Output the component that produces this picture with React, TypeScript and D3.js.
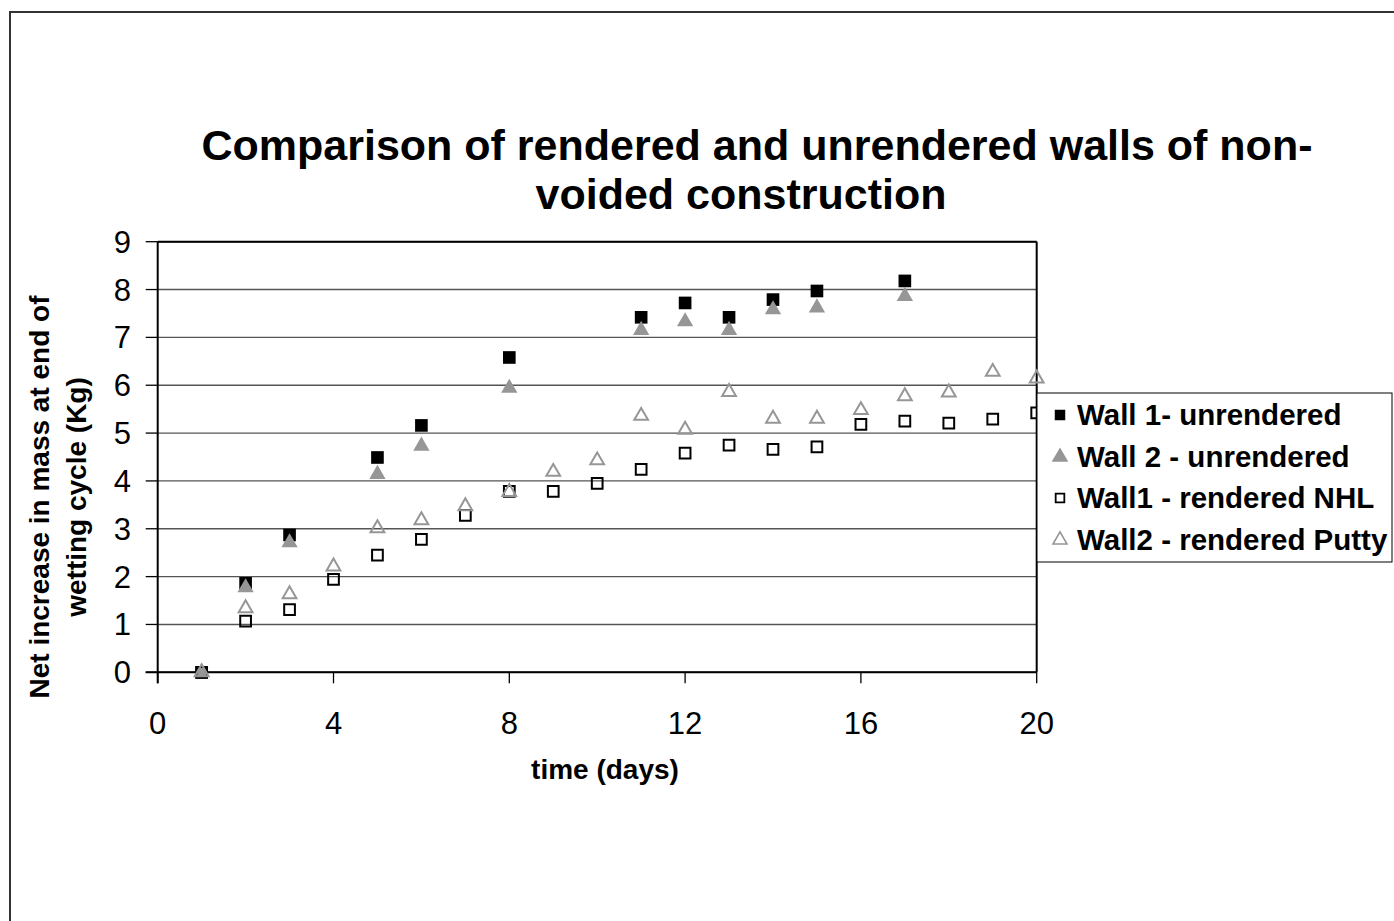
import React from "react";
import * as d3 from "d3";

const days1 = [1, 2, 3, 5, 6, 8, 11, 12, 13, 14, 15, 17];
const wall1Unrendered = [0.0, 1.86, 2.87, 4.49, 5.16, 6.58, 7.42, 7.72, 7.42, 7.79, 7.97, 8.18];
const wall2Unrendered = [0.0, 1.77, 2.71, 4.14, 4.73, 5.94, 7.15, 7.33, 7.15, 7.58, 7.62, 7.86];
const days2 = [1, 2, 3, 4, 5, 6, 7, 8, 9, 10, 11, 12, 13, 14, 15, 16, 17, 18, 19, 20];
const wall1RenderedNHL = [0.0, 1.07, 1.31, 1.94, 2.45, 2.78, 3.28, 3.78, 3.78, 3.95, 4.24, 4.58, 4.75, 4.66, 4.71, 5.18, 5.25, 5.21, 5.29, 5.42];
const wall2RenderedPutty = [0.0, 1.34, 1.63, 2.21, 3.01, 3.18, 3.47, 3.77, 4.19, 4.43, 5.36, 5.07, 5.86, 5.30, 5.30, 5.48, 5.77, 5.85, 6.28, 6.14];
const xTicks = [0, 4, 8, 12, 16, 20];
const yTicks = [0, 1, 2, 3, 4, 5, 6, 7, 8, 9];
const titleLines = ["Comparison of rendered and unrendered walls of non-", "voided construction"];
const yLabelLines = ["Net increase in mass at end of", "wetting cycle (Kg)"];
const xLabel = "time (days)";
const legendLabels = ["Wall 1- unrendered", "Wall 2 - unrendered", "Wall1 - rendered NHL", "Wall2 - rendered Putty"];

const GRAY = "#969696";
const FONT = "'Liberation Sans', Arial, sans-serif";

export default function App() {
  const x = d3.scaleLinear().domain([0, 20]).range([157.7, 1036.7]);
  const y = d3.scaleLinear().domain([0, 9]).range([672.3, 241.7]);

  const sqFilled = d3.symbol(d3.symbolSquare, 160)()!;
  const sqOpen = d3.symbol(d3.symbolSquare, 115)()!;
  const triFilled = d3.symbol(d3.symbolTriangle, 115)()!;
  const triOpen = d3.symbol(d3.symbolTriangle, 82)()!;

  const legSq = d3.symbol(d3.symbolSquare, 110)()!;
  const legSqOpen = d3.symbol(d3.symbolSquare, 75)()!;
  const legTri = d3.symbol(d3.symbolTriangle, 120)()!;
  const legTriOpen = d3.symbol(d3.symbolTriangle, 85)()!;

  const legendRowsY = [415, 457, 498, 540];
  const legendMarkers = [
    { d: legSq, fill: "#000", stroke: "none", sw: 0 },
    { d: legTri, fill: GRAY, stroke: "none", sw: 0 },
    { d: legSqOpen, fill: "none", stroke: "#000", sw: 1.8 },
    { d: legTriOpen, fill: "none", stroke: GRAY, sw: 1.6 },
  ];

  return (
    <svg
      width={1394}
      height={921}
      style={{ position: "absolute", left: 0, top: 0, background: "#fff" }}
      fontFamily={FONT}
    >
      <rect x={0} y={0} width={1394} height={921} fill="#fff" />
      {/* outer chart border */}
      <rect x={10} y={12} width={1420} height={950} fill="none" stroke="#333" strokeWidth={2} />

      {/* title */}
      <text x={757} y={160} textAnchor="middle" fontSize={43} fontWeight="bold" fill="#000">
        {titleLines[0]}
      </text>
      <text x={741} y={209} textAnchor="middle" fontSize={43} fontWeight="bold" fill="#000">
        {titleLines[1]}
      </text>

      {/* gridlines */}
      {yTicks.map((t) => (
        <line key={"g" + t} x1={x(0)} x2={x(20)} y1={y(t)} y2={y(t)} stroke="#555" strokeWidth={1.4} />
      ))}

      {/* plot border top/right */}
      <line x1={x(0)} x2={x(20)} y1={y(9)} y2={y(9)} stroke="#000" strokeWidth={2} />
      <line x1={x(20)} x2={x(20)} y1={y(9)} y2={y(0)} stroke="#000" strokeWidth={2} />

      {/* y axis */}
      <line x1={x(0)} x2={x(0)} y1={y(9)} y2={y(0) + 11} stroke="#000" strokeWidth={2} />
      {yTicks.map((t) => (
        <g key={"yt" + t}>
          <line x1={x(0) - 12} x2={x(0)} y1={y(t)} y2={y(t)} stroke="#000" strokeWidth={1.3} />
          <text x={131} y={y(t) + 11} textAnchor="end" fontSize={31} fill="#000">
            {t}
          </text>
        </g>
      ))}

      {/* x axis */}
      <line x1={x(0) - 12} x2={x(20)} y1={y(0)} y2={y(0)} stroke="#000" strokeWidth={2} />
      {xTicks.map((t) => (
        <g key={"xt" + t}>
          <line x1={x(t)} x2={x(t)} y1={y(0)} y2={y(0) + 11} stroke="#000" strokeWidth={1.3} />
          <text x={x(t)} y={734} textAnchor="middle" fontSize={31} fill="#000">
            {t}
          </text>
        </g>
      ))}

      {/* axis titles */}
      <text x={605} y={779} textAnchor="middle" fontSize={28} fontWeight="bold" fill="#000">
        {xLabel}
      </text>
      <text transform="translate(49,497) rotate(-90)" textAnchor="middle" fontSize={28} fontWeight="bold" fill="#000">
        {yLabelLines[0]}
      </text>
      <text transform="translate(86,497) rotate(-90)" textAnchor="middle" fontSize={28} fontWeight="bold" fill="#000">
        {yLabelLines[1]}
      </text>

      {/* series */}
      {days1.map((d, i) => (
        <path key={"s1" + i} d={sqFilled} transform={`translate(${x(d)},${y(wall1Unrendered[i])})`} fill="#000" />
      ))}
      {days1.map((d, i) => (
        <path key={"s2" + i} d={triFilled} transform={`translate(${x(d)},${y(wall2Unrendered[i])})`} fill={GRAY} />
      ))}
      {days2.map((d, i) => (
        <path
          key={"s3" + i}
          d={sqOpen}
          transform={`translate(${x(d)},${y(wall1RenderedNHL[i])})`}
          fill="none"
          stroke="#000"
          strokeWidth={2}
        />
      ))}
      {days2.map((d, i) => (
        <path
          key={"s4" + i}
          d={triOpen}
          transform={`translate(${x(d)},${y(wall2RenderedPutty[i])})`}
          fill="none"
          stroke={GRAY}
          strokeWidth={2}
        />
      ))}

      {/* legend */}
      <rect x={1037} y={393} width={355} height={169} fill="#fff" stroke="#000" strokeWidth={1} />
      {legendLabels.map((lab, i) => (
        <g key={"lg" + i}>
          <path
            d={legendMarkers[i].d}
            transform={`translate(1060,${legendRowsY[i]})`}
            fill={legendMarkers[i].fill}
            stroke={legendMarkers[i].stroke}
            strokeWidth={legendMarkers[i].sw}
          />
          <text x={1077} y={legendRowsY[i] + 10} fontSize={29.5} fontWeight="bold" fill="#000">
            {lab}
          </text>
        </g>
      ))}
    </svg>
  );
}
